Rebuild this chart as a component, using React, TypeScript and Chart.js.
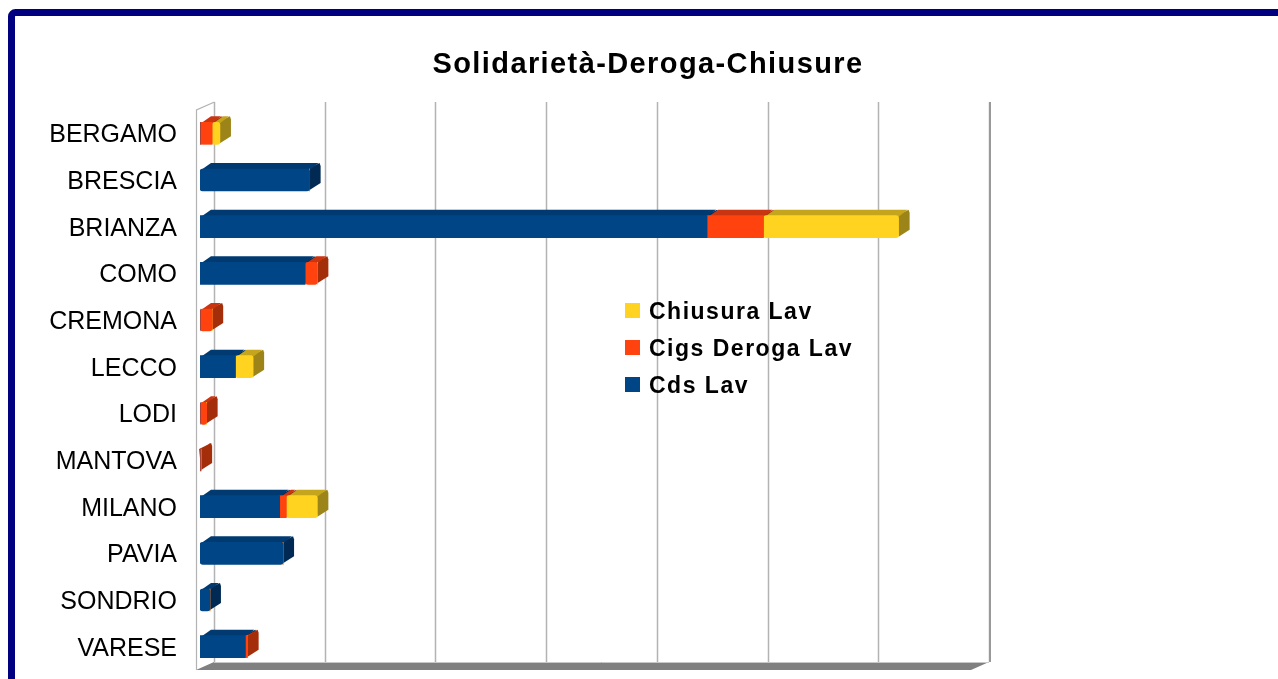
import React, { useEffect, useRef } from 'react';
import { Chart, registerables } from 'chart.js';

Chart.register(...registerables);

const chartTitle = 'Solidarietà-Deroga-Chiusure';
const categories = ['BERGAMO', 'BRESCIA', 'BRIANZA', 'COMO', 'CREMONA', 'LECCO', 'LODI', 'MANTOVA', 'MILANO', 'PAVIA', 'SONDRIO', 'VARESE'];
const cdsLav = [0, 99, 458, 95, 0, 32, 0, 0, 72, 75, 9, 41];
const cigsDerogaLav = [11, 0, 51, 11, 11, 0, 6, 1, 6, 0, 0, 2];
const chiusuraLav = [7, 0, 122, 0, 0, 16, 0, 0, 28, 0, 0, 0];
const seriesNames = ['Cds Lav', 'Cigs Deroga Lav', 'Chiusura Lav'];
const axisMin = 0;
const axisMax = 700;
const axisStep = 100;

const frontColors = ['#004586', '#ff420e', '#ffd320'];
const topColors = ['#003a70', '#c93510', '#c4a51c'];
const sideColors = ['#002a54', '#a52e0a', '#9c8418'];

const W = 1296;
const H = 700;
const FONT = '"Liberation Sans", Arial, sans-serif';

const BAR_DX = 11;
const BAR_DY = -6;
const WALL_DX = 18;
const WALL_DY = -8;

const framePlugin = {
  id: 'frame',
  beforeDraw(chart: any) {
    const ctx = chart.ctx;
    ctx.save();
    ctx.fillStyle = '#ffffff';
    ctx.fillRect(0, 0, W, H);
    ctx.strokeStyle = '#000080';
    ctx.lineWidth = 7;
    ctx.beginPath();
    const x = 11.5, y = 12.5, w = 1290 - x, h = 692 - y, r = 4;
    ctx.moveTo(x + r, y);
    ctx.lineTo(x + w - r, y);
    ctx.arcTo(x + w, y, x + w, y + r, r);
    ctx.lineTo(x + w, y + h - r);
    ctx.arcTo(x + w, y + h, x + w - r, y + h, r);
    ctx.lineTo(x + r, y + h);
    ctx.arcTo(x, y + h, x, y + h - r, r);
    ctx.lineTo(x, y + r);
    ctx.arcTo(x, y, x + r, y, r);
    ctx.closePath();
    ctx.stroke();
    ctx.restore();
  },
};

const depthPlugin = {
  id: 'depth3d',
  beforeDatasetsDraw(chart: any) {
    const ctx = chart.ctx;
    const xs = chart.scales.x;
    const area = chart.chartArea;
    const x0 = xs.getPixelForValue(axisMin);
    const frontX = x0 - 4;
    const backX = frontX + WALL_DX;
    const xMaxBack = xs.getPixelForValue(axisMax) + (backX - x0);
    const xMaxFront = xMaxBack - WALL_DX;
    ctx.save();
    // floor
    ctx.fillStyle = '#808080';
    ctx.beginPath();
    ctx.moveTo(frontX, area.bottom);
    ctx.lineTo(backX, area.bottom + WALL_DY);
    ctx.lineTo(xMaxBack, area.bottom + WALL_DY);
    ctx.lineTo(xMaxFront, area.bottom);
    ctx.closePath();
    ctx.fill();
    ctx.strokeStyle = '#c8c8c8';
    ctx.lineWidth = 1;
    ctx.beginPath();
    ctx.moveTo(backX, area.bottom + WALL_DY + 0.5);
    ctx.lineTo(xMaxBack, area.bottom + WALL_DY + 0.5);
    ctx.stroke();
    // gridlines on back wall
    ctx.strokeStyle = '#b3b3b3';
    ctx.lineWidth = 1.5;
    for (let v = axisMin; v <= axisMax; v += axisStep) {
      const gx = Math.round(xs.getPixelForValue(v) + (backX - x0)) + 0.5;
      ctx.beginPath();
      ctx.moveTo(gx, area.top + WALL_DY);
      ctx.lineTo(gx, area.bottom + WALL_DY);
      ctx.stroke();
    }
    // left wall lines
    ctx.lineWidth = 1.2;
    ctx.beginPath();
    ctx.moveTo(frontX + 0.5, area.bottom);
    ctx.lineTo(frontX + 0.5, area.top);
    ctx.lineTo(backX + 0.5, area.top + WALL_DY);
    ctx.stroke();
    ctx.strokeStyle = '#999999';
    ctx.lineWidth = 2;
    ctx.beginPath();
    ctx.moveTo(xMaxBack + 1, area.top + WALL_DY);
    ctx.lineTo(xMaxBack + 1, area.bottom + WALL_DY);
    ctx.stroke();

    // bar depth faces
    const metas = chart.data.datasets.map((_: any, i: number) => chart.getDatasetMeta(i));
    for (let c = 0; c < categories.length; c++) {
      for (let d = 0; d < metas.length; d++) {
        const val = chart.data.datasets[d].data[c];
        if (!val) continue;
        const el = metas[d].data[c];
        const p = el.getProps(['x', 'y', 'base', 'height'], true);
        const left = Math.min(p.x, p.base);
        const right = Math.max(p.x, p.base);
        const top = p.y - p.height / 2;
        const bottom = p.y + p.height / 2;
        // right face
        ctx.fillStyle = sideColors[d];
        ctx.beginPath();
        ctx.moveTo(right - 2, top);
        ctx.lineTo(right + BAR_DX - 1, top + BAR_DY);
        ctx.lineTo(right + BAR_DX, top + BAR_DY + 3);
        ctx.lineTo(right + BAR_DX, bottom + BAR_DY - 2);
        ctx.lineTo(right, bottom - 1);
        ctx.closePath();
        ctx.fill();
        // top face
        ctx.fillStyle = topColors[d];
        ctx.beginPath();
        ctx.moveTo(left + 1, top + 1);
        ctx.lineTo(left + BAR_DX, top + BAR_DY);
        ctx.lineTo(right + BAR_DX - 2, top + BAR_DY);
        ctx.lineTo(right, top + 1);
        ctx.closePath();
        ctx.fill();
      }
    }
    ctx.restore();
  },
};

const textPlugin = {
  id: 'texts',
  afterDraw(chart: any) {
    const ctx = chart.ctx;
    ctx.save();
    // title
    ctx.fillStyle = '#000000';
    ctx.font = `bold 29px ${FONT}`;
    (ctx as any).letterSpacing = '1.4px';
    ctx.textAlign = 'left';
    ctx.textBaseline = 'alphabetic';
    const tw = ctx.measureText(chartTitle).width;
    ctx.fillText(chartTitle, 648 - tw / 2, 73);
    // legend (reverse order)
    ctx.font = `bold 23px ${FONT}`;
    (ctx as any).letterSpacing = '1.5px';
    const order = [2, 1, 0];
    order.forEach((d, i) => {
      const yTop = 303 + i * 37;
      ctx.fillStyle = frontColors[d];
      ctx.fillRect(625, yTop, 15, 15);
      ctx.fillStyle = '#000000';
      ctx.fillText(seriesNames[d], 649, yTop + 16);
    });
    ctx.restore();
  },
};

export default function App() {
  const canvasRef = useRef<HTMLCanvasElement | null>(null);

  useEffect(() => {
    const canvas = canvasRef.current;
    if (!canvas) return;
    const series = [cdsLav, cigsDerogaLav, chiusuraLav];
    const chart = new Chart(canvas, {
      type: 'bar',
      data: {
        labels: categories,
        datasets: series.map((data, i) => ({
          label: seriesNames[i],
          data,
          backgroundColor: frontColors[i],
          borderWidth: 0,
          borderRadius: 3,
          borderSkipped: false,
          barThickness: 22,
        })),
      },
      options: {
        indexAxis: 'y',
        responsive: false,
        animation: false,
        devicePixelRatio: 1,
        layout: { padding: { top: 110, bottom: 30, left: 0, right: 321 } },
        plugins: {
          legend: { display: false },
          title: { display: false },
          tooltip: { enabled: false },
        },
        scales: {
          x: {
            stacked: true,
            display: false,
            min: axisMin,
            max: axisMax,
            ticks: { stepSize: axisStep },
          },
          y: {
            stacked: true,
            grid: { display: false, drawTicks: false },
            border: { display: false },
            ticks: {
              padding: 23,
              labelOffset: 2,
              color: '#000000',
              font: { family: FONT, size: 25 },
            },
            afterFit: (scale: any) => {
              scale.width = 200;
              scale.paddingTop = 0;
              scale.paddingBottom = 0;
            },
          },
        },
      },
      plugins: [framePlugin, depthPlugin, textPlugin],
    } as any);
    return () => chart.destroy();
  }, []);

  return (
    <div style={{ position: 'fixed', left: 0, top: 0, width: 1278, height: 679, overflow: 'hidden', background: '#fff' }}>
      <canvas ref={canvasRef} width={W} height={H} style={{ width: W, height: H, display: 'block' }} />
    </div>
  );
}
